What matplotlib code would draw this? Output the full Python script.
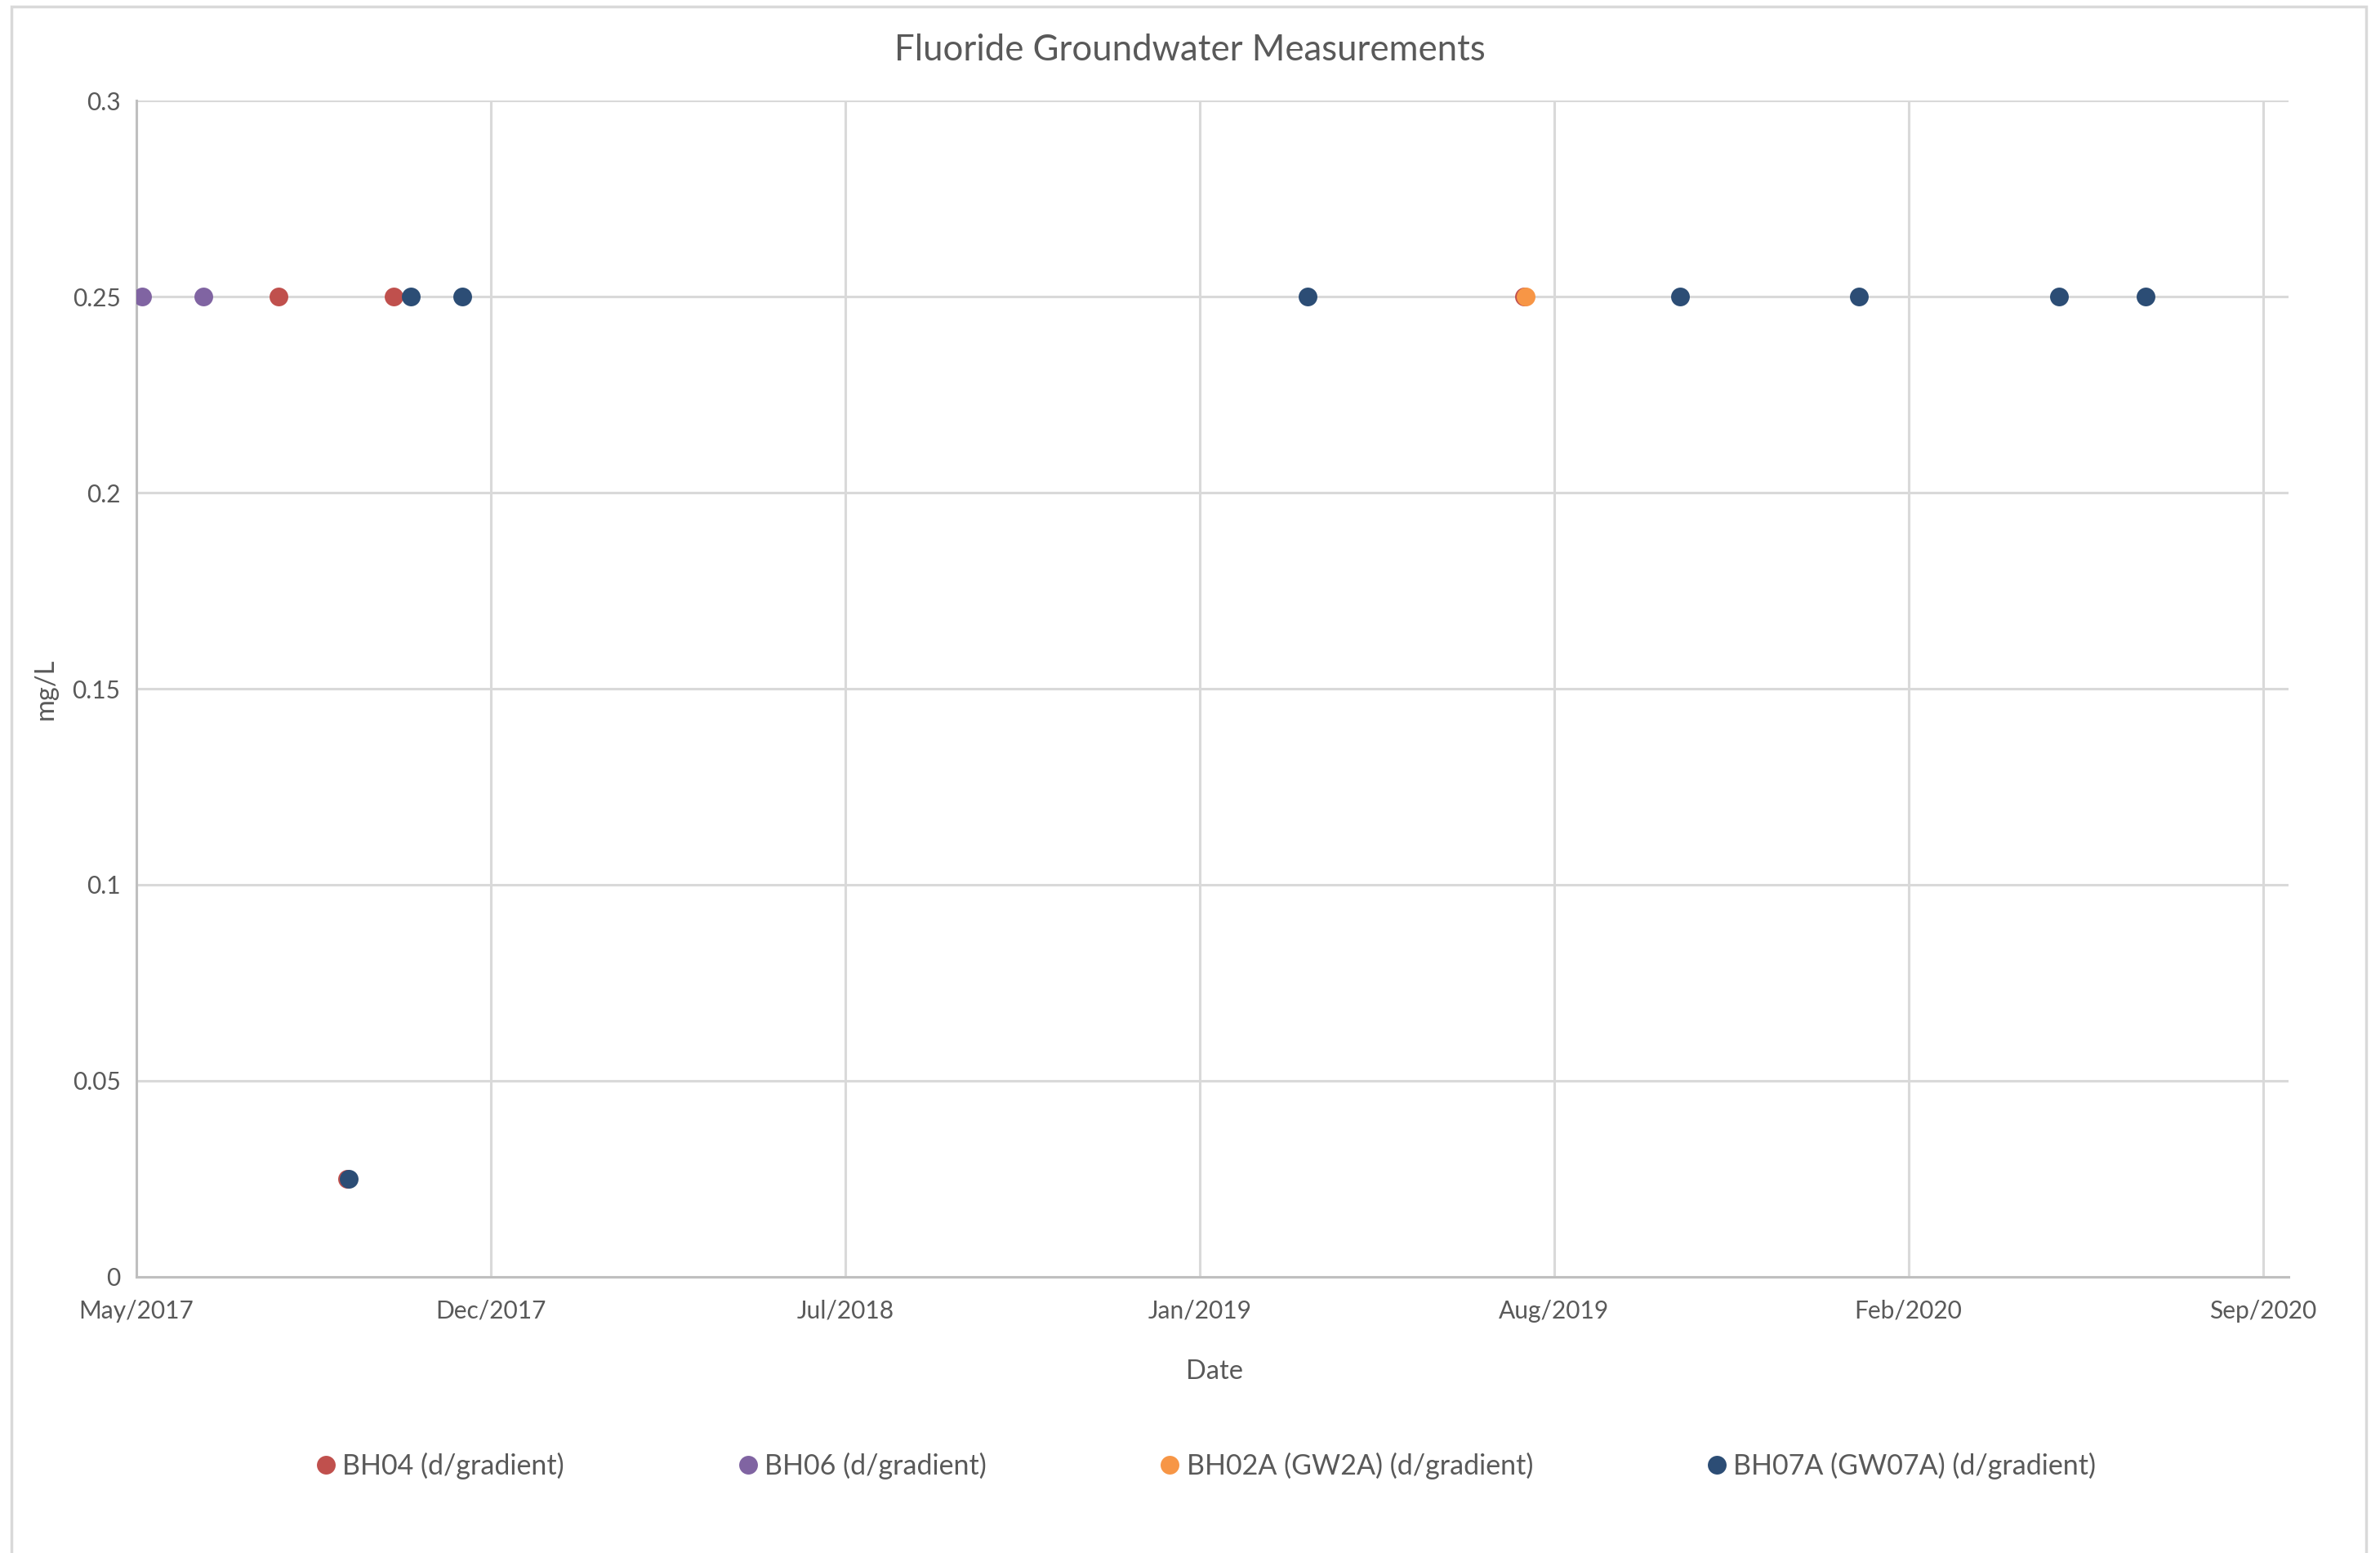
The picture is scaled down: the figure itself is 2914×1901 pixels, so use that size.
import matplotlib
matplotlib.use('Agg')
import matplotlib.pyplot as plt
import matplotlib.dates as mdates
from matplotlib.patches import Rectangle
import datetime as dt

plt.rcParams['font.family'] = ['Lato', 'DejaVu Sans']

# measurements (mg/L)
bh04_dates = ['2017-08-18', '2017-09-26', '2017-10-22', '2019-07-22']
bh04_vals = [0.25, 0.025, 0.25, 0.25]
bh06_dates = ['2017-06-02', '2017-07-07']
bh06_vals = [0.25, 0.25]
bh02a_dates = ['2019-07-23']
bh02a_vals = [0.25]
bh07a_dates = ['2017-09-27', '2017-11-01', '2017-11-30', '2019-03-22', '2019-10-18',
               '2020-01-27', '2020-05-19', '2020-07-07']
bh07a_vals = [0.025, 0.25, 0.25, 0.25, 0.25, 0.25, 0.25, 0.25]

series = [
    ('BH04 (d/gradient)', bh04_dates, bh04_vals, '#C0504D'),
    ('BH06 (d/gradient)', bh06_dates, bh06_vals, '#8064A2'),
    ('BH02A (GW2A) (d/gradient)', bh02a_dates, bh02a_vals, '#F79646'),
    ('BH07A (GW07A) (d/gradient)', bh07a_dates, bh07a_vals, '#2C4D75'),
]

# excel style date axis: start + 200 day steps
axis_start = dt.datetime(2017, 5, 30)
tick_days = [0, 200, 400, 600, 800, 1000, 1200]
y_ticks = [0, 0.05, 0.1, 0.15, 0.2, 0.25, 0.3]
y_labels = ['0', '0.05', '0.1', '0.15', '0.2', '0.25', '0.3']

txt = '#595959'
grid = '#D9D9D9'

W, H = 2914, 1901
fig = plt.figure(figsize=(W / 100, H / 100), dpi=100)
ax = fig.add_axes([167 / W, 1 - 1563 / H, (2802 - 167) / W, (1563 - 123) / H])

for name, d, v, c in series:
    x = [dt.datetime.strptime(s, '%Y-%m-%d') for s in d]
    ax.plot(x, v, 'o', color=c, markersize=16.5, markeredgewidth=0, label=name, zorder=3)

ax.set_xticks([axis_start + dt.timedelta(days=k) for k in tick_days])
ax.xaxis.set_major_formatter(mdates.DateFormatter('%b/%Y'))
ax.set_xlim(axis_start, axis_start + dt.timedelta(days=1214.5))
ax.set_ylim(0, 0.3)
ax.set_yticks(y_ticks)
ax.set_yticklabels(y_labels)

ax.grid(True, color=grid, linewidth=2.2, zorder=0)
ax.set_axisbelow(True)
for s in ['top', 'right']:
    ax.spines[s].set_visible(False)
for s in ['left', 'bottom']:
    ax.spines[s].set_color('#BFBFBF')
    ax.spines[s].set_linewidth(2.2)
ax.tick_params(length=0, labelsize=21.5, labelcolor=txt, pad=14)
ax.tick_params(axis='x', pad=20)

fig.text(1457 / W, 1 - 62 / H, 'Fluoride Groundwater Measurements', ha='center', va='center',
         fontsize=31.5, color=txt)
fig.text(1487 / W, 1 - 1679 / H, 'Date', ha='center', va='center', fontsize=23.5, color=txt)
fig.text(56 / W, 1 - 843 / H, 'mg/L', ha='center', va='center', rotation=90, fontsize=23.5, color=txt)

leg = fig.legend(loc='center', bbox_to_anchor=(0.507, 1 - 1794 / H), ncol=4, frameon=False,
                 fontsize=24.5, handlelength=0.6, handletextpad=0.3, columnspacing=6.3,
                 markerscale=1.0)
for t in leg.get_texts():
    t.set_color(txt)

fig.patches.append(Rectangle((14 / W, -0.01), (2897 - 14) / W, 1 - 8 / H + 0.01,
                             transform=fig.transFigure, fill=False, edgecolor=grid, linewidth=2.5))

fig.savefig('out.png', dpi=100, facecolor='white')
